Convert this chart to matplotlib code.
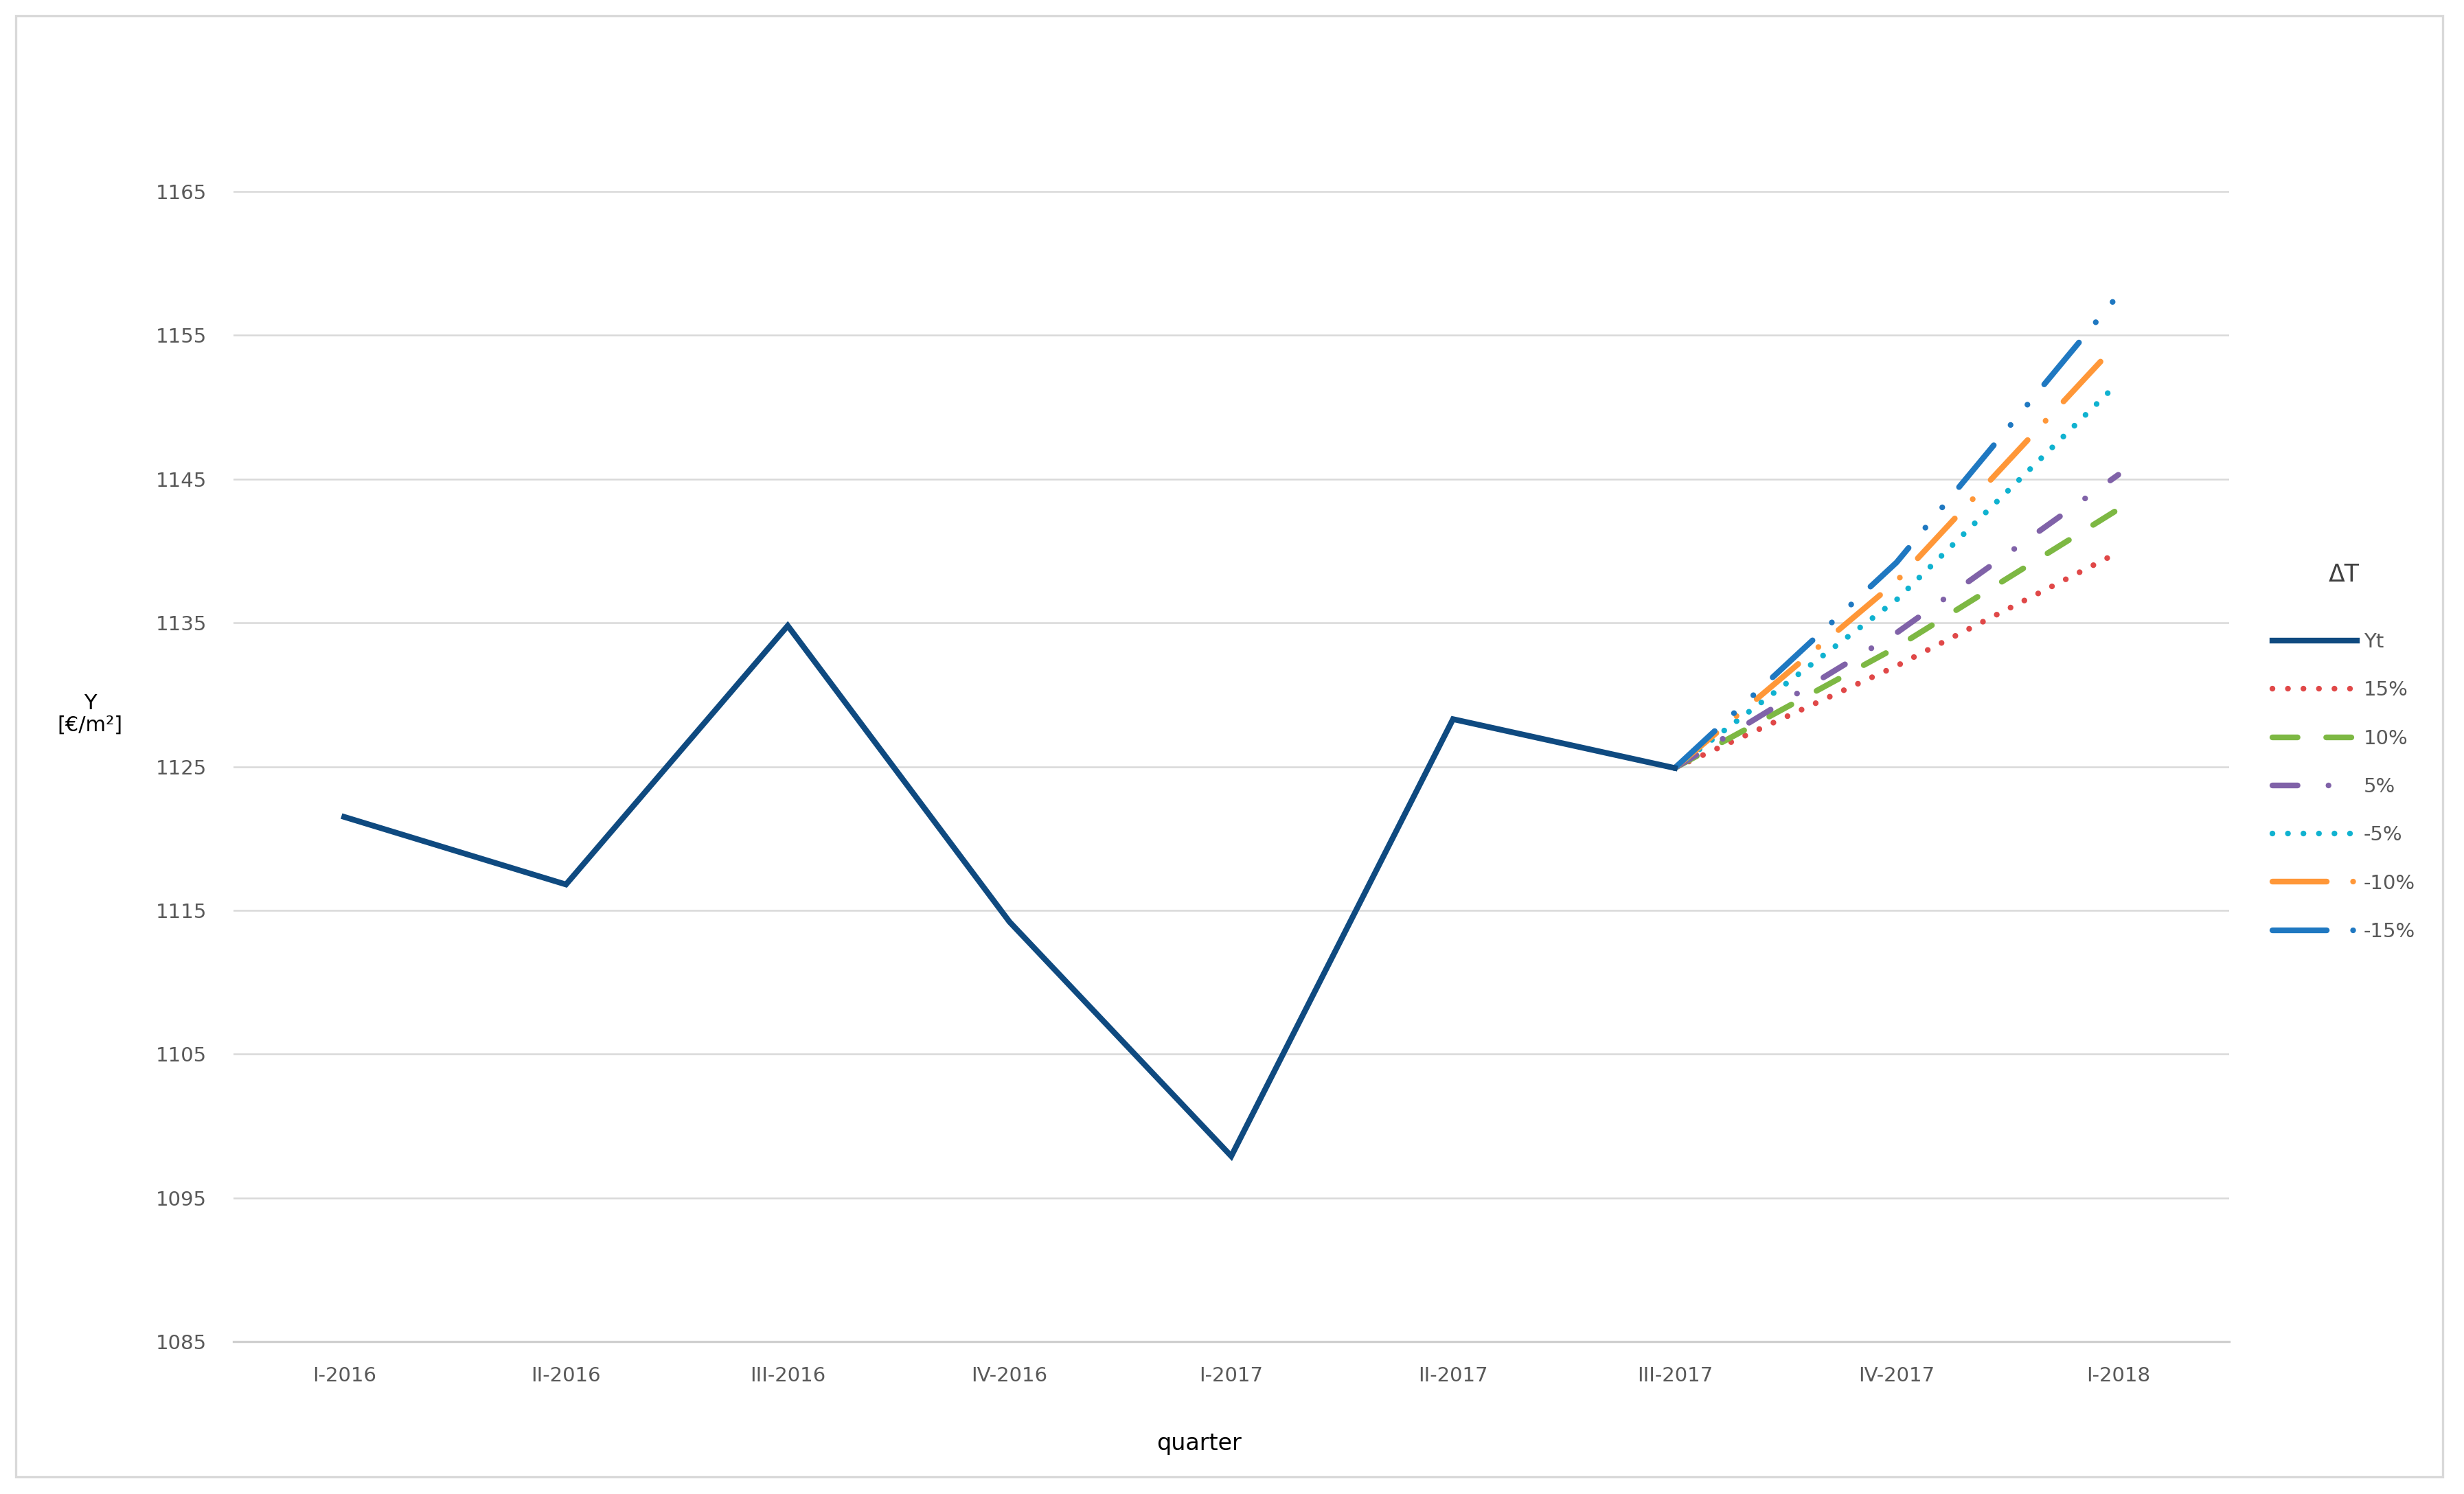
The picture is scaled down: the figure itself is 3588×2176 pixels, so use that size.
import matplotlib
matplotlib.use("Agg")
import matplotlib.pyplot as plt
from matplotlib.patches import Rectangle

# data
quarters = ["I-2016", "II-2016", "III-2016", "IV-2016", "I-2017",
            "II-2017", "III-2017", "IV-2017", "I-2018"]
yt = [1121.5, 1116.8, 1134.8, 1114.2, 1097.9, 1128.3, 1124.9]

# forecasts start at III-2017
fc_labels = ["15%", "10%", "5%", "-5%", "-10%", "-15%"]
fc_values = [
    [1124.9, 1132.0, 1139.9],
    [1124.9, 1133.3, 1142.9],
    [1124.9, 1134.3, 1145.3],
    [1124.9, 1136.6, 1151.7],
    [1124.9, 1137.9, 1154.5],
    [1124.9, 1139.2, 1157.8],
]
fc_colors = ["#E04848", "#7DB843", "#8062A8", "#10B2D0", "#FF9738", "#1F78C1"]
# dash patterns (in units of line width)
fc_dashes = [
    (0.01, 2.7),
    (4.4, 5.0),
    (4.4, 5.4, 0.01, 5.4),
    (0.01, 2.7),
    (9.5, 4.6, 0.01, 4.6),
    (9.5, 4.6, 0.01, 4.6, 0.01, 4.6),
]

fig = plt.figure(figsize=(17.94, 10.88), dpi=200)
ax = fig.add_axes([0.0947, 0.102, 0.81, 0.866])

x_hist = list(range(len(yt)))
ax.plot(x_hist, yt, color="#0F4A80", lw=3.0, solid_joinstyle="miter", label="Yt", zorder=5)

x_fc = list(range(6, 9))
for vals, lab, col, d in zip(fc_values, fc_labels, fc_colors, fc_dashes):
    ax.plot(x_fc, vals, color=col, lw=3.0, dashes=d, dash_capstyle="round", label=lab, zorder=4)

ax.set_xlim(-0.5, 8.5)
ax.set_ylim(1085, 1175)
ax.set_xticks(range(len(quarters)))
ax.set_xticklabels(quarters)
ax.set_yticks(range(1085, 1166, 10))
ax.grid(axis="y", color="#D9D9D9", lw=0.9)
ax.set_axisbelow(True)
for s in ["top", "right", "left"]:
    ax.spines[s].set_visible(False)
ax.spines["bottom"].set_color("#D0D0D0")
ax.spines["bottom"].set_linewidth(1.2)
ax.tick_params(length=0, labelsize=10.5, labelcolor="#595959")
ax.tick_params(axis="x", pad=13)
ax.tick_params(axis="y", pad=14)

fig.text(0.0365, 0.522, "Y\n[€/m²]", ha="center", va="center", fontsize=11, linespacing=1.1)
fig.text(0.4866, 0.034, "quarter", ha="center", va="center", fontsize=12)

leg = fig.legend(loc="upper left", bbox_to_anchor=(0.915, 0.635), frameon=False,
                 title="ΔT", fontsize=10.5, title_fontsize=12.5, handlelength=4.2,
                 labelspacing=1.45, handletextpad=0.35, labelcolor="#595959")
leg.get_title().set_color("#404040")
leg._legend_box.sep = 24

# outer border of chart area
fig.patches.append(Rectangle((0.0064, 0.0116), 0.985, 0.978, transform=fig.transFigure,
                             fill=False, edgecolor="#D9D9D9", lw=1.2))

fig.savefig("out.png", dpi=200)
